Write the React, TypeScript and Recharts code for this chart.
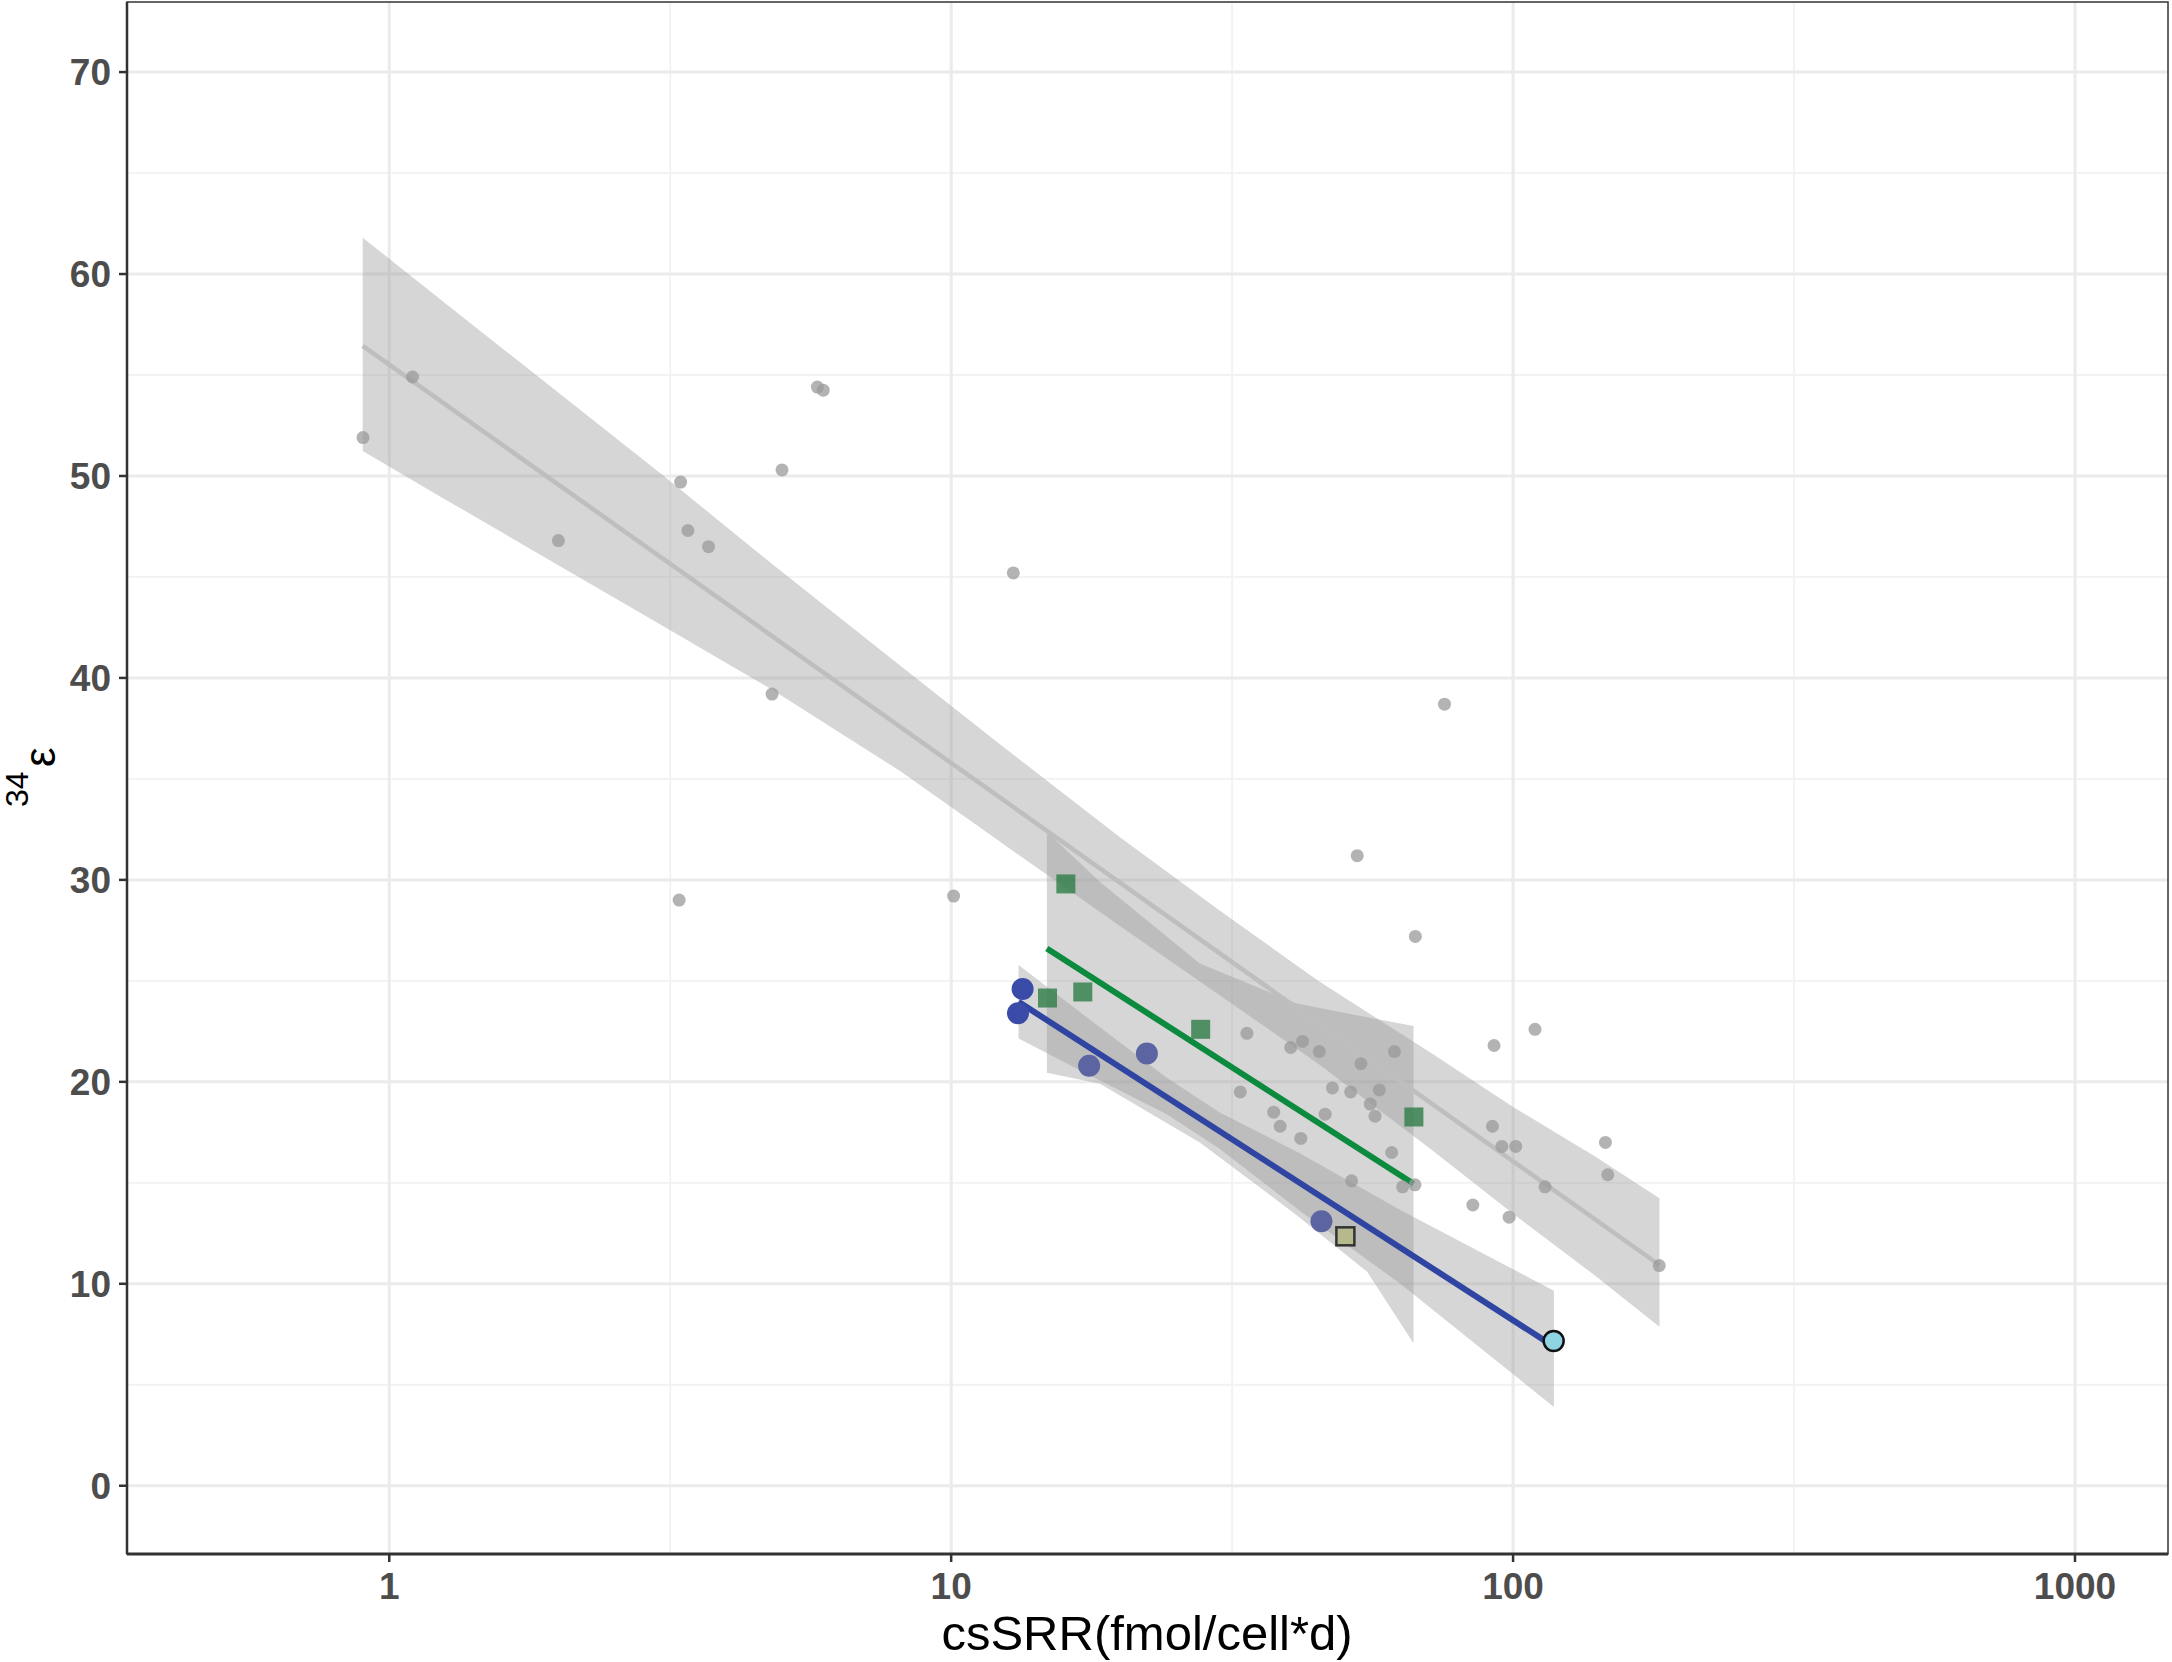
import React from 'react';
import { ComposedChart, Area, Line, Scatter, XAxis, YAxis, CartesianGrid } from 'recharts';

// grey points: all samples
const greyX = [0.898, 1.1, 2.0, 3.28, 3.3, 3.4, 3.7, 4.8, 5.0, 5.78, 5.92, 10.1, 12.9,
  32.7, 33.6, 37.5, 38.5, 40.2, 41.9, 42.2, 45.2, 46.3, 47.7, 51.4, 51.6, 52.8, 53.6,
  55.7, 56.8, 57.8, 60.8, 61.5, 63.6, 66.9, 67.0, 75.5, 84.8, 91.9, 92.5, 95.5, 98.4,
  101.1, 109.4, 114, 146, 147.4, 182];
const greyY = [51.9, 54.9, 46.8, 29.0, 49.7, 47.3, 46.5, 39.2, 50.3, 54.4, 54.25, 29.2, 45.2,
  19.5, 22.4, 18.5, 17.8, 21.7, 17.2, 22.0, 21.5, 18.4, 19.7, 19.5, 15.1, 31.2, 20.9,
  18.9, 18.3, 19.6, 16.5, 21.5, 14.8, 14.9, 27.2, 38.7, 13.9, 17.8, 21.8, 16.8, 13.3,
  16.8, 22.6, 14.8, 17.0, 15.4, 10.9];

// blue circles (two darker, three paler)
const blueDarkX = [13.4, 13.15];
const blueDarkY = [24.6, 23.4];
const bluePaleX = [17.6, 22.3, 45.6];
const bluePaleY = [20.8, 21.4, 13.1];

// green squares
const greenX = [14.84, 16.0, 17.15, 27.8, 66.6];
const greenY = [24.15, 29.8, 24.45, 22.6, 18.26];

// single outlined points
const khakiX = [50.3];
const khakiY = [12.35];
const cyanX = [118.1];
const cyanY = [7.17];

// fitted lines (end points)
const greyLineX = [0.897, 182.2];
const greyLineY = [56.44, 10.93];
const greenLineX = [14.8, 66.5];
const greenLineY = [26.6, 14.95];
const blueLineX = [13.18, 118.1];
const blueLineY = [23.96, 6.9];

// confidence bands
const greyBandX = [0.897, 1.24, 3.08, 4.82, 8.1, 12.1, 20, 30, 45, 71.7, 100, 140, 182.2];
const greyBandLo = [51.24, 48.94, 42.55, 39.39, 35.4, 31.97, 27.7, 24.3, 20.9, 16.62, 13.47, 10.4, 7.87];
const greyBandHi = [61.8, 58.69, 50.0, 45.6, 40.63, 36.8, 32.1, 28.5, 25.0, 21.4, 18.76, 16.3, 14.23];

const greenBandX = [14.8, 18.4, 27.7, 41.2, 55, 66.5];
const greenBandLo = [20.45, 19.9, 17.0, 13.4, 10.6, 7.05];
const greenBandHi = [32.38, 29.9, 25.86, 23.88, 23.2, 22.76];

const blueBandX = [13.18, 18, 24.2, 30, 41.8, 63, 118.2];
const blueBandLo = [22.15, 20.2, 18.4, 16.7, 13.6, 10.0, 3.9];
const blueBandHi = [25.78, 22.9, 20.2, 18.5, 16.45, 13.65, 9.66];

const xTicks = [1, 10, 100, 1000];
const xMinor = [3.162, 31.62, 316.2];
const yTicks = [0, 10, 20, 30, 40, 50, 60, 70];
const yMinor = [5, 15, 25, 35, 45, 55, 65];

const pts = (xs: number[], ys: number[]) => xs.map((x, i) => ({ x, y: ys[i] }));
const band = (xs: number[], lo: number[], hi: number[]) => xs.map((x, i) => ({ x, range: [lo[i], hi[i]] }));

const FONT = '"Liberation Sans", Arial, Helvetica, sans-serif';
const W = 2172;
const H = 1662;

const dot = (fill: string, r: number, opacity = 1, stroke?: string) => (p: any) => (
  <circle cx={p.cx} cy={p.cy} r={r} fill={fill} fillOpacity={opacity}
    stroke={stroke ?? 'none'} strokeWidth={stroke ? 2.5 : 0} />
);
const square = (fill: string, s: number, opacity = 1, stroke?: string) => (p: any) => (
  <rect x={p.cx - s / 2} y={p.cy - s / 2} width={s} height={s} fill={fill} fillOpacity={opacity}
    stroke={stroke ?? 'none'} strokeWidth={stroke ? 2.5 : 0} />
);

const tickStyle = { fontSize: 37, fontWeight: 700, fill: '#4d4d4d', fontFamily: FONT };

export default function App() {
  return (
    <div style={{ position: 'absolute', left: 0, top: 0, width: W, height: H, background: '#fff' }}>
      <ComposedChart width={W} height={H} margin={{ top: 2, right: 4, bottom: 0, left: 0 }}>
        <CartesianGrid horizontalValues={yMinor} verticalValues={xMinor} stroke="#f2f2f2" strokeWidth={1.8} />
        <CartesianGrid horizontalValues={yTicks} verticalValues={xTicks} stroke="#ebebeb" strokeWidth={3} />
        <XAxis type="number" dataKey="x" scale="log" domain={[0.3414, 1464]} allowDataOverflow
          ticks={xTicks} height={108} tickSize={8} tickMargin={11}
          axisLine={{ stroke: '#333333', strokeWidth: 3 }} tickLine={{ stroke: '#333333', strokeWidth: 2.5 }}
          tick={tickStyle} />
        <YAxis type="number" domain={[-3.38, 73.47]} allowDataOverflow ticks={yTicks} width={127}
          tickSize={8} tickMargin={8}
          axisLine={{ stroke: '#333333', strokeWidth: 2.5 }} tickLine={{ stroke: '#333333', strokeWidth: 2.5 }}
          tick={tickStyle} />

        <Area data={band(greyBandX, greyBandLo, greyBandHi)} dataKey="range" type="linear"
          stroke="none" fill="#999999" fillOpacity={0.4} dot={false} activeDot={false} isAnimationActive={false} />
        <Area data={band(greenBandX, greenBandLo, greenBandHi)} dataKey="range" type="linear"
          stroke="none" fill="#999999" fillOpacity={0.4} dot={false} activeDot={false} isAnimationActive={false} />
        <Area data={band(blueBandX, blueBandLo, blueBandHi)} dataKey="range" type="linear"
          stroke="none" fill="#999999" fillOpacity={0.4} dot={false} activeDot={false} isAnimationActive={false} />

        <Scatter data={pts(greyX, greyY)} dataKey="y" shape={dot('#999999', 6.5, 0.75)} isAnimationActive={false} />
        <Scatter data={pts(greenX, greenY)} dataKey="y" shape={square('#2e7d46', 19, 0.8)} isAnimationActive={false} />
        <Scatter data={pts(bluePaleX, bluePaleY)} dataKey="y" shape={dot('#5c64a2', 11)} isAnimationActive={false} />
        <Scatter data={pts(blueDarkX, blueDarkY)} dataKey="y" shape={dot('#3a4ba8', 11)} isAnimationActive={false} />
        <Scatter data={pts(khakiX, khakiY)} dataKey="y" shape={square('#b6b98c', 18, 1, '#333333')} isAnimationActive={false} />
        <Scatter data={pts(cyanX, cyanY)} dataKey="y" shape={dot('#8fd4e2', 10, 1, '#111111')} isAnimationActive={false} />

        <Line data={pts(greyLineX, greyLineY)} dataKey="y" type="linear" stroke="#bebebe" strokeWidth={4.5}
          dot={false} activeDot={false} isAnimationActive={false} />
        <Line data={pts(greenLineX, greenLineY)} dataKey="y" type="linear" stroke="#0c8a3e" strokeWidth={6}
          dot={false} activeDot={false} isAnimationActive={false} />
        <Line data={pts(blueLineX, blueLineY)} dataKey="y" type="linear" stroke="#2f45a1" strokeWidth={6}
          dot={false} activeDot={false} isAnimationActive={false} />
      </ComposedChart>

      <svg width={W} height={H} style={{ position: 'absolute', left: 0, top: 0, pointerEvents: 'none' }}>
        <rect x={127} y={2} width={2041} height={1552} fill="none" stroke="#333333" strokeWidth={1.5} />
        <text x={1147} y={1650} textAnchor="middle" fontSize={49} fontFamily={FONT} fill="#000">
          csSRR(fmol/cell*d)
        </text>
        <g transform="translate(55, 777) rotate(-90)" fontFamily={FONT} fill="#000">
          <text x={-30} y={-27} fontSize={32}>34</text>
          <text x={10} y={0} fontSize={44}>ε</text>
        </g>
      </svg>
    </div>
  );
}
